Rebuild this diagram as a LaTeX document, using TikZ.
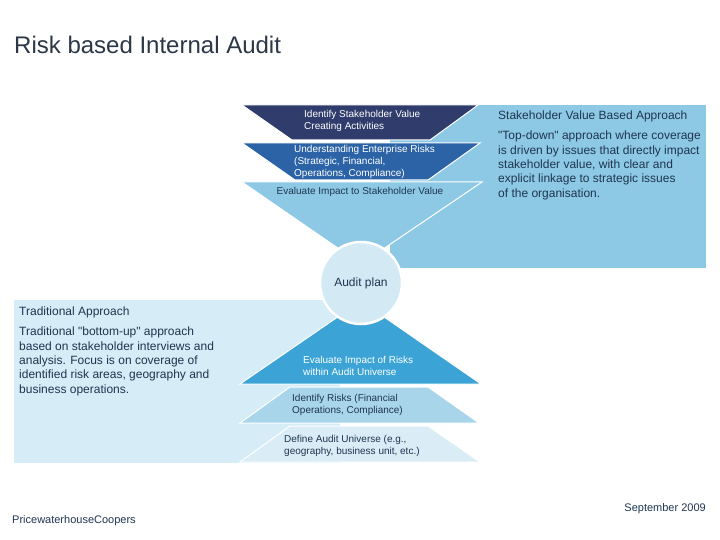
\documentclass[tikz,border=0pt]{standalone}
\usepackage{fontspec}
\setmainfont{Liberation Sans}
\usepackage{xcolor}
\usepackage{tikz}
\usetikzlibrary{positioning}

\definecolor{ink}{HTML}{1F3550}
\definecolor{titleink}{HTML}{2B3646}
\definecolor{navyband}{HTML}{2F3C6C}
\definecolor{royalband}{HTML}{2C63A6}
\definecolor{skyband}{HTML}{8DC9E4}
\definecolor{planfill}{HTML}{D3EAF5}
\definecolor{riskband}{HTML}{3BA3D5}
\definecolor{idband}{HTML}{A8D5EA}
\definecolor{univband}{HTML}{DAEDF6}
\definecolor{tradfill}{HTML}{D6ECF6}

\begin{document}
\begin{tikzpicture}[
  x = 1pt, y = -1pt,
  band/.style = {fill=#1, draw=white, line width=1pt},
  wtxt/.style = {font=\fontsize{10}{12}\selectfont, text=white,
                 align=left, inner sep=0pt, anchor=west},
  dtxt/.style = {wtxt, text=ink},
  head/.style = {font=\fontsize{12}{14}\selectfont, text=ink,
                 inner sep=0pt, anchor=west},
  body/.style = {font=\fontsize{12}{14.4}\selectfont, text=ink,
                 align=left, inner sep=0pt},
]
\useasboundingbox (0,0) rectangle (720,540);

%% ── TITLE ───────────────────────────────────────────────────────────────
\node[font=\fontsize{24}{28}\selectfont, text=titleink, inner sep=0pt, anchor=west]
  (title) at (14,45) {Risk based Internal Audit};

%% ── BACKGROUND PANELS ───────────────────────────────────────────────────
\fill[tradfill] (14,300) rectangle (340,463);
\fill[skyband]  (390,105) rectangle (706,268);

%% ── TOP-DOWN FUNNEL ─────────────────────────────────────────────────────
\draw[band=navyband]  (242,105) -- (478,105) -- (430,140) -- (292,140) -- cycle;
\draw[band=royalband] (242,143) -- (480,143) -- (428,180) -- (295,180) -- cycle;
\draw[band=skyband]   (242,182) -- (482,182) -- (361,264) -- cycle;

%% ── BOTTOM-UP PYRAMID ───────────────────────────────────────────────────
\draw[band=riskband] (361,301) -- (481,384) -- (240,384) -- cycle;
\draw[band=idband]   (290,387) -- (428,387) -- (479,423) -- (240,423) -- cycle;
\draw[band=univband] (290,426) -- (428,426) -- (480,462) -- (240,462) -- cycle;

%% ── AUDIT PLAN ──────────────────────────────────────────────────────────
\node[circle, fill=planfill, draw=white, line width=2.5pt, minimum size=82pt,
      inner sep=0pt, font=\fontsize{12}{14}\selectfont, text=ink]
  (plan) at (361,283) {Audit plan};

%% ── BAND LABELS ─────────────────────────────────────────────────────────
\node[wtxt] (stake)  at (304,121) {Identify Stakeholder Value\\Creating Activities};
\node[wtxt] (erisk)  at (294,162) {Understanding Enterprise Risks\\(Strategic, Financial,\\Operations, Compliance)};
\node[dtxt, anchor=center] (evalsv) at (360,192) {Evaluate Impact to Stakeholder Value};

\node[wtxt] (evalau) at (303,366) {Evaluate Impact of Risks\\within Audit Universe};
\node[dtxt] (idrisk) at (292,405) {Identify Risks (Financial\\Operations, Compliance)};
\node[dtxt] (defau)  at (284,446) {Define Audit Universe (e.g.,\\geography, business unit, etc.)};

%% ── APPROACH TEXTS ──────────────────────────────────────────────────────
\node[head] (svhead) at (498,116) {Stakeholder Value Based Approach};
\node[body, below=9pt of svhead.south west, anchor=north west] (svbody)
  {\textquotedbl Top-down\textquotedbl{} approach where coverage\\is driven by issues that directly impact\\stakeholder value, with clear and\\explicit linkage to strategic issues\\of the organisation.};

\node[head] (trhead) at (19,312) {Traditional Approach};
\node[body, below=9pt of trhead.south west, anchor=north west] (trbody)
  {Traditional \textquotedbl bottom-up\textquotedbl{} approach\\based on stakeholder interviews and\\analysis. Focus is on coverage of\\identified risk areas, geography and\\business operations.};

%% ── FOOTER ──────────────────────────────────────────────────────────────
\node[font=\fontsize{11}{13}\selectfont, text=ink, inner sep=0pt, anchor=west]
  (firm) at (12,521) {PricewaterhouseCoopers};
\node[font=\fontsize{11}{13}\selectfont, text=ink, inner sep=0pt, anchor=east]
  (date) at (706,509) {September 2009};

\end{tikzpicture}
\end{document}
